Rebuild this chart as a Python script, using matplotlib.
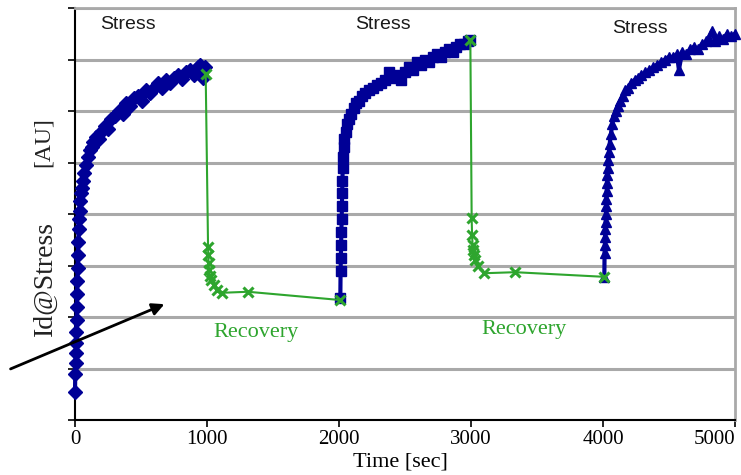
import matplotlib
matplotlib.use("Agg")
import matplotlib.pyplot as plt

# ---------------- data ----------------
stress1_t = [0, 2, 4, 6, 8, 10, 12, 14, 16, 18, 20, 22, 25, 28, 31, 35, 40, 45, 50, 60, 70, 80,
             95, 110, 125, 140, 160, 180, 200, 225, 250, 275, 300, 330, 360, 390, 420, 450, 480,
             510, 540, 570, 600, 630, 660, 690, 720, 750, 780, 810, 840, 870, 900, 930, 950, 970, 985]
stress1_v = [0.54, 0.9, 1.1, 1.3, 1.5, 1.7, 1.95, 2.2, 2.45, 2.7, 2.95, 3.2, 3.45, 3.7, 3.9, 4.05,
             4.25, 4.4, 4.5, 4.65, 4.8, 4.95, 5.1, 5.25, 5.3, 5.4, 5.5, 5.45, 5.6, 5.7, 5.65, 5.85,
             5.9, 6.0, 5.95, 6.15, 6.1, 6.25, 6.3, 6.2, 6.4, 6.35, 6.45, 6.55, 6.45, 6.6, 6.55, 6.65,
             6.7, 6.62, 6.75, 6.8, 6.7, 6.85, 6.9, 6.65, 6.85]

recov1_t = [990, 1008, 1010, 1012, 1015, 1020, 1030, 1050, 1075, 1113, 1310, 2008]
recov1_v = [6.72, 3.36, 3.2, 3.05, 2.91, 2.8, 2.72, 2.62, 2.52, 2.47, 2.49, 2.33]

stress2_t = [2010, 2012, 2014, 2016, 2018, 2020, 2022, 2024, 2026, 2028, 2030, 2035, 2040, 2050,
             2060, 2075, 2090, 2110, 2130, 2150, 2175, 2200, 2230, 2260, 2290, 2320, 2350, 2380,
             2410, 2440, 2470, 2500, 2530, 2560, 2590, 2620, 2650, 2680, 2710, 2740, 2770, 2800,
             2830, 2860, 2890, 2920, 2950, 2980, 2995]
stress2_v = [2.36, 2.9, 3.15, 3.4, 3.65, 3.9, 4.15, 4.4, 4.65, 4.9, 5.1, 5.3, 5.45, 5.6, 5.75,
             5.85, 5.95, 6.05, 6.15, 6.2, 6.3, 6.35, 6.4, 6.45, 6.5, 6.55, 6.6, 6.75, 6.65, 6.7,
             6.6, 6.75, 6.85, 6.8, 6.95, 6.9, 7.0, 6.95, 7.05, 7.1, 7.05, 7.15, 7.2, 7.15, 7.25,
             7.3, 7.3, 7.35, 7.38]

recov2_t = [2995, 3005, 3008, 3012, 3016, 3020, 3030, 3050, 3100, 3335, 4010]
recov2_v = [7.38, 3.92, 3.6, 3.4, 3.3, 3.2, 3.1, 3.0, 2.85, 2.87, 2.78]

stress3_t = [4010, 4012, 4014, 4016, 4018, 4020, 4022, 4024, 4026, 4028, 4030, 4033, 4036, 4040,
             4045, 4050, 4060, 4070, 4080, 4095, 4110, 4130, 4150, 4170, 4190, 4215, 4240, 4265,
             4290, 4320, 4350, 4380, 4410, 4440, 4470, 4500, 4530, 4560, 4575, 4600, 4630, 4660,
             4690, 4720, 4750, 4780, 4800, 4825, 4850, 4880, 4910, 4940, 4970, 5000]
stress3_v = [2.78, 3.25, 3.4, 3.55, 3.7, 3.85, 4.0, 4.15, 4.3, 4.45, 4.6, 4.75, 4.9, 5.05, 5.2,
             5.35, 5.55, 5.75, 5.9, 6.0, 6.1, 6.2, 6.3, 6.4, 6.45, 6.55, 6.6, 6.65, 6.7, 6.75, 6.8,
             6.85, 6.9, 6.95, 7.0, 7.05, 7.05, 7.1, 6.8, 7.15, 7.1, 7.2, 7.25, 7.2, 7.3, 7.35, 7.4,
             7.55, 7.35, 7.45, 7.4, 7.5, 7.45, 7.5]

x_ticks = [0, 1000, 2000, 3000, 4000, 5000]
x_tick_labels = ["0", "1000", "2000", "3000", "4000", "5000"]
y_grid = [0, 1, 2, 3, 4, 5, 6, 7, 8]

# ---------------- styling ----------------
BLUE = "#000096"
GREEN = "#2ea52e"
GRID = "#a9a9a9"
SERIF = ["Liberation Serif", "DejaVu Serif"]
SANS = ["Liberation Sans", "DejaVu Sans"]

fig = plt.figure(figsize=(7.41, 4.75), dpi=100)
ax = fig.add_axes([75 / 741, 1 - 420 / 475, 660 / 741, 412 / 475])

ax.set_xlim(0, 5000)
ax.set_ylim(0, 8)
ax.set_yticks(y_grid)
ax.set_yticklabels([])
ax.set_xticks(x_ticks)
ax.set_xticklabels(x_tick_labels, fontfamily=SERIF, fontsize=15)
ax.get_xticklabels()[-1].set_horizontalalignment("right")
ax.tick_params(axis="both", direction="out", length=5, width=1.2, color="black", pad=2)
ax.grid(axis="y", color=GRID, lw=2.2, zorder=0)
ax.set_axisbelow(True)

for s in ["top", "right"]:
    ax.spines[s].set_color(GRID)
    ax.spines[s].set_linewidth(2)
ax.spines["left"].set_color("black")
ax.spines["left"].set_linewidth(1.5)
ax.spines["bottom"].set_color("black")
ax.spines["bottom"].set_linewidth(1.5)

# stress series
ax.plot(stress1_t, stress1_v, color=BLUE, lw=3, marker="D", ms=7, ls="-", zorder=3, clip_on=False)
ax.plot(stress2_t, stress2_v, color=BLUE, lw=3, marker="s", ms=7, ls="-", zorder=3, clip_on=False)
ax.plot(stress3_t, stress3_v, color=BLUE, lw=3, marker="^", ms=7.5, ls="-", zorder=3, clip_on=False)

# recovery series
for t, v in [(recov1_t, recov1_v), (recov2_t, recov2_v)]:
    ax.plot(t, v, color=GREEN, lw=1.5, marker="x", ms=7, mew=2.2, zorder=4)

# annotations
for xt, yt in [(401, 7.67), (2333, 7.67), (4280, 7.61)]:
    ax.text(xt, yt, "Stress", fontfamily=SANS, fontsize=14, color="#1a1a1a",
            ha="center", va="center")
for xt, yt in [(1371, 1.69), (3401, 1.75)]:
    ax.text(xt, yt, "Recovery", fontfamily=SERIF, fontsize=16, color=GREEN,
            ha="center", va="center")

ax.annotate("", xy=(697, 2.27), xycoords="data",
            xytext=(8 / 741, 1 - 370 / 475), textcoords="figure fraction",
            arrowprops=dict(arrowstyle="-|>", color="black", lw=2, mutation_scale=18),
            annotation_clip=False)

fig.text(400 / 741, 1 - 462 / 475, "Time [sec]", fontfamily=SERIF, fontsize=16,
         ha="center", va="center")
fig.text(45 / 741, 1 - 278 / 475, "Id@Stress", fontfamily=SERIF, fontsize=20,
         rotation=90, ha="center", va="center", color="#222222")
fig.text(43 / 741, 1 - 142 / 475, "[AU]", fontfamily=SERIF, fontsize=17,
         rotation=90, ha="center", va="center", color="#222222")

fig.savefig("out.png", dpi=100)
